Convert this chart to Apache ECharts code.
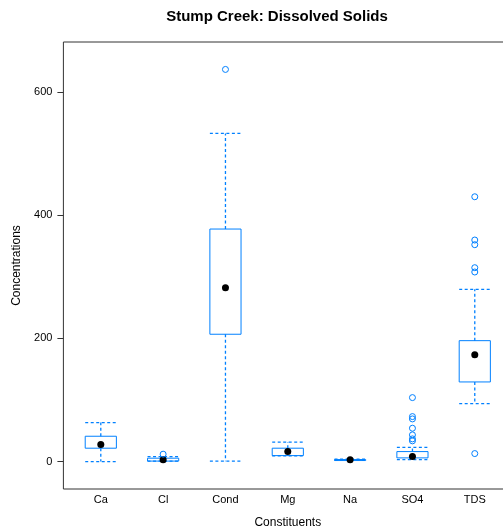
<!DOCTYPE html>
<html>
<head>
<meta charset="utf-8">
<script src="https://cdn.jsdelivr.net/npm/echarts@6/dist/echarts.min.js"></script>
<style>
html,body{margin:0;padding:0;background:#fff;}
#chart{width:503px;height:531px;}
</style>
</head>
<body>
<div id="chart"></div>
<script>
const categories = ['Ca', 'Cl', 'Cond', 'Mg', 'Na', 'SO4', 'TDS'];
const whiskerLow  = [0,    0.6, 0.6,   9.2, 1.8, 3.2, 94];
const q1          = [21.7, 0.8, 206.6, 9.7, 2.3, 6.0, 129.2];
const median      = [27.6, 2.8, 282,   16.2, 2.8, 8.1, 173.5];
const q3          = [41.1, 5.5, 377.3, 21.7, 3.3, 16.2, 196.2];
const whiskerHigh = [63.2, 8.0, 532.5, 31.4, 3.8, 23.2, 279.5];
const outlierCl   = [12];
const outlierCond = [636.3];
const outlierSO4  = [103.8, 73, 69.2, 54.1, 43.3, 36.8, 33.6];
const outlierTDS  = [429.7, 359.5, 351.9, 314.6, 307.6, 13];
const yTicks = [0, 200, 400, 600];

const outlierMap = { 'Cl': outlierCl, 'Cond': outlierCond, 'SO4': outlierSO4, 'TDS': outlierTDS };
const outlierData = [];
categories.forEach((c, i) => {
  (outlierMap[c] || []).forEach(v => outlierData.push([i + 1, v]));
});
const boxData = categories.map((c, i) => [i + 1, whiskerLow[i], q1[i], median[i], q3[i], whiskerHigh[i]]);
const medianData = categories.map((c, i) => [i + 1, median[i]]);

const BLUE = '#0080ff';
// plot frame: x from 0.4 to 7.6 (62.33 px per category); the right frame edge lies beyond the picture
const GRID_LEFT = 63.4, PX_PER_CAT = 62.33;
const X_MIN = 0.4, X_MAX = 7.6;
const GRID_W = (X_MAX - X_MIN) * PX_PER_CAT;

const chart = echarts.init(document.getElementById('chart'), null, { renderer: 'canvas' });
chart.setOption({
  animation: false,
  backgroundColor: '#fff',
  title: {
    text: 'Stump Creek: Dissolved Solids',
    left: 272, top: 4, textAlign: 'center',
    textStyle: { fontFamily: 'Liberation Sans', fontWeight: 'bold', fontSize: 15, color: '#000' }
  },
  grid: {
    show: true, left: GRID_LEFT, top: 42, width: GRID_W, height: 447,
    outerBoundsMode: 'none', containLabel: false,
    borderColor: '#333', borderWidth: 1, backgroundColor: 'transparent'
  },
  xAxis: {
    type: 'value', min: X_MIN, max: X_MAX,
    name: 'Constituents', nameLocation: 'middle', nameGap: 28,
    nameTextStyle: { fontFamily: 'Liberation Sans', fontSize: 12, color: '#000' },
    axisLine: { show: false },
    axisTick: { show: false },
    splitLine: { show: false },
    axisLabel: {
      customValues: categories.map((c, i) => i + 1),
      formatter: v => categories[Math.round(v) - 1] || '',
      margin: 5,
      fontFamily: 'Liberation Sans', fontSize: 11, color: '#000'
    }
  },
  yAxis: {
    type: 'value', min: -44.5, max: 680.8,
    name: 'Concentrations', nameLocation: 'middle', nameGap: 38,
    nameTextStyle: { fontFamily: 'Liberation Sans', fontSize: 12, color: '#000' },
    axisLine: { show: false },
    splitLine: { show: false },
    axisTick: { show: true, inside: false, length: 6, customValues: yTicks, lineStyle: { color: '#333', width: 1 } },
    axisLabel: {
      customValues: yTicks, margin: 11,
      fontFamily: 'Liberation Sans', fontSize: 11, color: '#000'
    }
  },
  series: [
    {
      type: 'custom',
      data: boxData,
      encode: { x: 0, y: [1, 2, 3, 4, 5] },
      renderItem: function (params, api) {
        const x = api.value(0);
        const halfW = api.size([1, 0])[0] * 0.25;
        const pLow = api.coord([x, api.value(1)]);
        const pQ1 = api.coord([x, api.value(2)]);
        const pQ3 = api.coord([x, api.value(4)]);
        const pHigh = api.coord([x, api.value(5)]);
        const cx = pLow[0];
        const dash = { stroke: BLUE, lineWidth: 1.3, lineDash: [3, 2.5] };
        const solid = { stroke: BLUE, lineWidth: 1, fill: null };
        return {
          type: 'group',
          children: [
            { type: 'line', shape: { x1: cx, y1: pQ3[1], x2: cx, y2: pHigh[1] }, style: dash },
            { type: 'line', shape: { x1: cx, y1: pQ1[1], x2: cx, y2: pLow[1] }, style: dash },
            { type: 'line', shape: { x1: cx - halfW, y1: pHigh[1], x2: cx + halfW, y2: pHigh[1] }, style: dash },
            { type: 'line', shape: { x1: cx - halfW, y1: pLow[1], x2: cx + halfW, y2: pLow[1] }, style: dash },
            { type: 'rect', shape: { x: cx - halfW, y: pQ3[1], width: halfW * 2, height: Math.max(pQ1[1] - pQ3[1], 1) }, style: solid }
          ]
        };
      },
      z: 2
    },
    {
      type: 'scatter',
      data: medianData,
      symbol: 'circle', symbolSize: 7,
      itemStyle: { color: '#000', opacity: 1 },
      z: 3
    },
    {
      type: 'scatter',
      data: outlierData,
      symbol: 'circle', symbolSize: 6,
      itemStyle: { color: 'transparent', borderColor: BLUE, borderWidth: 1, opacity: 1 },
      z: 3
    }
  ]
});
</script>
</body>
</html>
